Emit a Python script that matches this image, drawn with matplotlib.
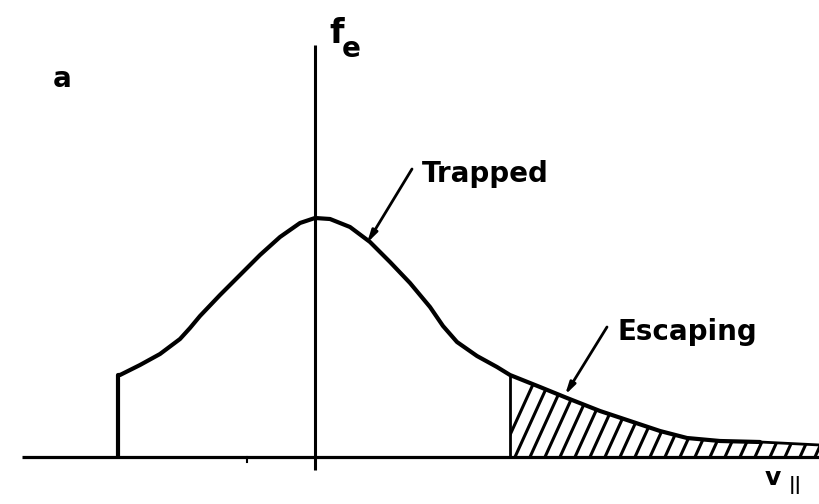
import numpy as np
import matplotlib.pyplot as plt
from matplotlib.collections import LineCollection
from matplotlib.patches import Polygon

# electron distribution f_e(v_par), arbitrary units
v_par = [-1.97, -1.95, -1.75, -1.55, -1.35, -1.25, -1.15, -0.95, -0.75, -0.55,
         -0.35, -0.15, 0.0, 0.15, 0.35, 0.55, 0.75, 0.95, 1.15, 1.28,
         1.42, 1.62, 1.82, 1.95, 2.25, 2.52, 2.85, 3.18, 3.45, 3.72,
         4.05, 4.45]
f_e = [0.82, 0.82, 0.92, 1.03, 1.18, 1.29, 1.41, 1.62, 1.82, 2.02,
       2.20, 2.34, 2.39, 2.38, 2.30, 2.15, 1.95, 1.74, 1.50, 1.31,
       1.15, 1.01, 0.90, 0.82, 0.70, 0.59, 0.46, 0.35, 0.26, 0.19,
       0.16, 0.15]
v_tail = [4.45, 5.05]
f_tail = [0.15, 0.12]
v_min = -1.97      # lower edge of the distribution
v_cut = 1.95       # escape velocity
v_tick = -0.68

v = np.array(v_par + v_tail[1:])
f = np.array(f_e + f_tail[1:])

fig = plt.figure(figsize=(8.2, 5.04), dpi=100)
ax = fig.add_axes([0, 0, 1, 1])
ax.set_xlim(-3.15, 5.05)
ax.set_ylim(-0.47, 4.57)
ax.axis('off')

# axes
ax.plot([-2.93, 5.05], [0, 0], color='black', lw=2.3, solid_capstyle='butt')
ax.plot([0, 0], [-0.13, 4.12], color='black', lw=2.2, solid_capstyle='butt')
ax.plot([v_tick, v_tick], [0, -0.05], color='black', lw=1.5)

# curve
ax.plot([v_min, v_min], [0, f_e[0]], color='black', lw=3.0, solid_capstyle='butt')
ax.plot(v_par, f_e, color='black', lw=3.0, solid_capstyle='round',
        solid_joinstyle='round')
ax.plot(v_tail, f_tail, color='black', lw=2.0)

# escaping part, hatched
esc = v >= v_cut
ax.plot([v_cut, v_cut], [0, np.interp(v_cut, v, f)], color='black', lw=2.0)
poly_pts = np.vstack([np.column_stack([v[esc], f[esc]]),
                      [[v[esc][-1], 0], [v_cut, 0]]])
clip = Polygon(poly_pts, closed=True, facecolor='none', edgecolor='none',
               transform=ax.transData)
ax.add_patch(clip)
slope = 2.2
segs = []
for v0 in np.arange(v_cut - 0.10, 5.2, 0.15):
    segs.append([(v0, 0), (v0 + 1.0 / slope, 1.0)])
hatch = LineCollection(segs, colors='black', linewidths=2.2)
hatch.set_clip_path(clip)
ax.add_collection(hatch)

# labels
font = dict(family='DejaVu Sans', weight='bold', color='black')
ax.text(-2.62, 3.7, 'a', fontsize=20, va='baseline', ha='left', **font)
ax.text(0.14, 4.14, 'f', fontsize=24, va='baseline', ha='left', **font)
ax.text(0.27, 4.0, 'e', fontsize=20, va='baseline', ha='left', **font)
ax.text(4.5, -0.28, 'v', fontsize=18, va='baseline', ha='left', **font)
ax.text(4.74, -0.33, '||', fontsize=13, va='baseline', ha='left', **font)

arrow = dict(arrowstyle='-|>,head_length=0.7,head_width=0.18', color='black',
             lw=2.0, shrinkA=0, shrinkB=0)
ax.annotate('', xy=(0.52, 2.14), xytext=(0.97, 2.88), arrowprops=arrow)
ax.text(1.07, 2.75, 'Trapped', fontsize=20, va='baseline', ha='left', **font)
ax.annotate('', xy=(2.50, 0.62), xytext=(2.92, 1.30), arrowprops=arrow)
ax.text(3.03, 1.17, 'Escaping', fontsize=20, va='baseline', ha='left', **font)

plt.savefig('out.png', dpi=100)
